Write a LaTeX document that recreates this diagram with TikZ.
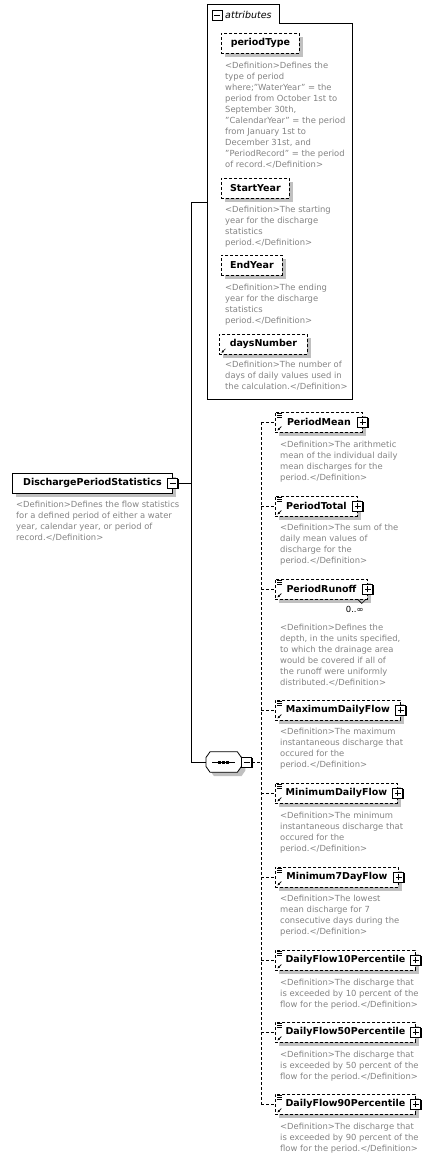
\documentclass[tikz,border=0pt]{standalone}
\usepackage{fontspec}
\setmainfont{DejaVu Sans}
\usepackage{tikz}
\usetikzlibrary{arrows.meta,positioning,calc,shadows}
\definecolor{xsddeftext}{RGB}{132,132,132}
\definecolor{xsdshadow}{RGB}{192,192,192}
\definecolor{xsddark}{RGB}{0,0,0}
\newcommand{\xsdnamefont}{\fontsize{9.5}{11}\selectfont\bfseries}
\newcommand{\xsddeffont}{\fontsize{8.4}{11}\selectfont}
\tikzset{
  xsd line/.style={
    draw=xsddark,
    line width=0.8pt,
  },
  xsd dashline/.style={
    xsd line,
    dash pattern=on 3pt off 2pt,
  },
  xsd shadow/.style={
    drop shadow={shadow xshift=4pt, shadow yshift=-4pt, fill=xsdshadow, opacity=1},
  },
  xsd box/.style={
    xsd line,
    xsd shadow,
    fill=white,
    minimum height=20pt,
    inner sep=0pt,
    font=\xsdnamefont,
    anchor=west,
  },
  xsd optional/.style={
    xsd box,
    dash pattern=on 3pt off 2pt,
  },
  xsd ref/.style={
    xsd optional,
    path picture={
      \draw[solid, line width=0.6pt, {Latex[length=2.5pt,width=2.5pt]}-]
        ([shift={(2pt,1.5pt)}]path picture bounding box.south west) -- +(4pt,4pt);
    },
  },
  xsd child/.style={
    xsd optional,
    path picture={
      \draw[solid, line width=0.6pt, {Latex[length=2.5pt,width=2.5pt]}-]
        ([shift={(2pt,1.5pt)}]path picture bounding box.south west) -- +(4pt,4pt);
      \draw[solid, line width=0.5pt]
        ([shift={(2pt,-1.5pt)}]path picture bounding box.north west)
        -- +(5pt,0pt) +(0pt,-1.8pt) -- +(5pt,-1.8pt) +(0pt,-3.6pt) -- +(5pt,-3.6pt);
    },
  },
  xsd expander/.style={
    xsd line,
    fill=white,
    minimum size=10pt,
    inner sep=0pt,
    drop shadow={shadow xshift=1pt, shadow yshift=-1pt, fill=xsddark, opacity=1},
  },
  xsd minus/.style={
    xsd expander,
    path picture={
      \draw[solid, line width=0.8pt]
        ([xshift=2pt]path picture bounding box.west) -- ([xshift=-2pt]path picture bounding box.east);
    },
  },
  xsd plus/.style={
    xsd expander,
    path picture={
      \draw[solid, line width=0.8pt]
        ([xshift=2pt]path picture bounding box.west) -- ([xshift=-2pt]path picture bounding box.east)
        ([yshift=-2pt]path picture bounding box.north) -- ([yshift=2pt]path picture bounding box.south);
    },
  },
  xsd sequence/.style={
    minimum width=35pt,
    minimum height=20pt,
    inner sep=0pt,
    anchor=west,
  },
  xsd dot/.style={
    fill=xsddark,
  },
  xsd group/.style={
    inner sep=0pt,
  },
  xsd grouplabel/.style={
    inner sep=0pt,
    font=\fontsize{9.5}{11}\selectfont\itshape,
  },
  xsd deftext/.style={
    anchor=north west,
    inner sep=0pt,
    align=left,
    text=xsddeftext,
    font=\xsddeffont,
  },
  xsd card/.style={
    inner sep=0pt,
    font=\xsddeffont,
  },
}

\begin{document}
\begin{tikzpicture}[x=1pt,y=-1pt]
  \useasboundingbox[fill=white] (0,0) rectangle (429,1158);

  % attributes group
  \node[xsd group, minimum width=145pt, minimum height=376pt, anchor=north west] (attrs) at (207,23) {};
  \node[xsd group, minimum width=72pt, minimum height=18pt, anchor=south west] (attrtab) at (attrs.north west) {};
  \draw[xsd line] (attrtab.north west) -- (attrtab.north east) -- (attrtab.south east)
    -- (attrs.north east) -- (attrs.south east) -- (attrs.south west) -- cycle;
  \node[xsd minus] (attrexp) at (217,15.5) {};
  \node[xsd grouplabel, anchor=west] (attrlabel) at (225,15) {attributes};

  \node[xsd optional, minimum width=78pt, anchor=north west] (ptype) at (221,33) {periodType};
  \node[xsd deftext] (ptypedef) at (225,62)
    {<Definition>Defines the\\type of period\\where;"WaterYear" = the\\period from October 1st to\\September 30th,\\"CalendarYear" = the period\\from January 1st to\\December 31st, and\\"PeriodRecord" = the period\\of record.</Definition>};
  \node[xsd optional, minimum width=68pt, anchor=north west] (syear) at (221,178) {StartYear};
  \node[xsd deftext] (syeardef) at (225,206)
    {<Definition>The starting\\year for the discharge\\statistics\\period.</Definition>};
  \node[xsd optional, minimum width=61pt, anchor=north west] (eyear) at (221,255) {EndYear};
  \node[xsd deftext] (eyeardef) at (225,284)
    {<Definition>The ending\\year for the discharge\\statistics\\period.</Definition>};
  \node[xsd ref, minimum width=88pt, anchor=north west] (dnum) at (219,334) {daysNumber};
  \node[xsd deftext] (dnumdef) at (225,361)
    {<Definition>The number of\\days of daily values used in\\the calculation.</Definition>};

  % root element
  \node[xsd box, minimum width=160pt] (dps) at (12,483) {DischargePeriodStatistics};
  \node[xsd minus] (dpsexp) at (dps.east) {};
  \node[xsd deftext] (dpsdef) at (16,501)
    {<Definition>Defines the flow statistics\\for a defined period of either a water\\year, calendar year, or period of\\record.</Definition>};

  % sequence
  \node[xsd sequence] (seq) at (206,762) {};
  \draw[xsd line, xsd shadow, fill=white]
    ([yshift=4.5pt]seq.west) -- ([xshift=4pt]seq.north west) -- ([xshift=-4pt]seq.north east)
    -- ([yshift=4.5pt]seq.east) -- ([yshift=-4.5pt]seq.east) -- ([xshift=-4pt]seq.south east)
    -- ([xshift=4pt]seq.south west) -- ([yshift=-4.5pt]seq.west) -- cycle;
  \draw[xsd line] ([xshift=6pt]seq.west) -- ([xshift=-6pt]seq.east);
  \fill[xsd dot] ([xshift=-4pt]seq.center) +(-1.5pt,-1.5pt) rectangle +(1.5pt,1.5pt);
  \fill[xsd dot] (seq.center) +(-1.5pt,-1.5pt) rectangle +(1.5pt,1.5pt);
  \fill[xsd dot] ([xshift=4pt]seq.center) +(-1.5pt,-1.5pt) rectangle +(1.5pt,1.5pt);
  \node[xsd minus, anchor=west] (seqexp) at (seq.east) {};

  % children
  \node[xsd child, minimum width=87pt] (pmean) at (275,422) {PeriodMean};
  \node[xsd plus] (pmeanexp) at (pmean.east) {};
  \node[xsd deftext] (pmeandef) at (280,441)
    {<Definition>The arithmetic\\mean of the individual daily\\mean discharges for the\\period.</Definition>};

  \node[xsd child, minimum width=82pt] (ptotal) at (275,506) {PeriodTotal};
  \node[xsd plus] (ptotalexp) at (ptotal.east) {};
  \node[xsd deftext] (ptotaldef) at (280,524)
    {<Definition>The sum of the\\daily mean values of\\discharge for the\\period.</Definition>};

  \node[xsd child, minimum width=92pt] (prunoff) at (275,589) {PeriodRunoff};
  \node[xsd plus] (prunoffexp) at (prunoff.east) {};
  \draw[xsd line, line width=0.6pt] ([xshift=-10pt]prunoff.south east) -- ++(4,4) -- ++(4,-4);
  \node[xsd card, anchor=north east] (prunoffcard) at ([shift={(-4pt,-7pt)}]prunoff.south east) {0..∞};
  \node[xsd deftext] (prunoffdef) at (280,624)
    {<Definition>Defines the\\depth, in the units specified,\\to which the drainage area\\would be covered if all of\\the runoff were uniformly\\distributed.</Definition>};

  \node[xsd child, minimum width=125pt] (pmax) at (275,710) {MaximumDailyFlow};
  \node[xsd plus] (pmaxexp) at (pmax.east) {};
  \node[xsd deftext] (pmaxdef) at (280,728)
    {<Definition>The maximum\\instantaneous discharge that\\occured for the\\period.</Definition>};

  \node[xsd child, minimum width=122pt] (pmin) at (275,793) {MinimumDailyFlow};
  \node[xsd plus] (pminexp) at (pmin.east) {};
  \node[xsd deftext] (pmindef) at (280,812)
    {<Definition>The minimum\\instantaneous discharge that\\occured for the\\period.</Definition>};

  \node[xsd child, minimum width=123pt] (p7day) at (275,877) {Minimum7DayFlow};
  \node[xsd plus] (p7dayexp) at (p7day.east) {};
  \node[xsd deftext] (p7daydef) at (280,895)
    {<Definition>The lowest\\mean discharge for 7\\consecutive days during the\\period.</Definition>};

  \node[xsd child, minimum width=140pt] (df10) at (275,960) {DailyFlow10Percentile};
  \node[xsd plus] (df10exp) at (df10.east) {};
  \node[xsd deftext] (df10def) at (280,979)
    {<Definition>The discharge that\\is exceeded by 10 percent of the\\flow for the period.</Definition>};

  \node[xsd child, minimum width=140pt] (df50) at (275,1032) {DailyFlow50Percentile};
  \node[xsd plus] (df50exp) at (df50.east) {};
  \node[xsd deftext] (df50def) at (280,1051)
    {<Definition>The discharge that\\is exceeded by 50 percent of the\\flow for the period.</Definition>};

  \node[xsd child, minimum width=140pt] (df90) at (275,1104) {DailyFlow90Percentile};
  \node[xsd plus] (df90exp) at (df90.east) {};
  \node[xsd deftext] (df90def) at (280,1123)
    {<Definition>The discharge that\\is exceeded by 90 percent of the\\flow for the period.</Definition>};

  % connectors
  \coordinate (trunk) at (191,483);
  \coordinate (attrjoin) at (191,202);
  \coordinate (seqjoin) at (191,762);
  \coordinate (spine) at (261,762);
  \draw[xsd line] (dpsexp.east) -- (trunk);
  \draw[xsd line] (attrs.west |- attrjoin) -- (attrjoin) -- (seqjoin) -- (seq.west);
  \draw[xsd dashline] (seqexp.east) -- (spine);
  \draw[xsd dashline] (spine |- pmean.west) -- (spine |- df90.west);
  \draw[xsd dashline] (spine |- pmean.west) -- (pmean.west);
  \draw[xsd dashline] (spine |- ptotal.west) -- (ptotal.west);
  \draw[xsd dashline] (spine |- prunoff.west) -- (prunoff.west);
  \draw[xsd dashline] (spine |- pmax.west) -- (pmax.west);
  \draw[xsd dashline] (spine |- pmin.west) -- (pmin.west);
  \draw[xsd dashline] (spine |- p7day.west) -- (p7day.west);
  \draw[xsd dashline] (spine |- df10.west) -- (df10.west);
  \draw[xsd dashline] (spine |- df50.west) -- (df50.west);
  \draw[xsd dashline] (spine |- df90.west) -- (df90.west);
\end{tikzpicture}
\end{document}
